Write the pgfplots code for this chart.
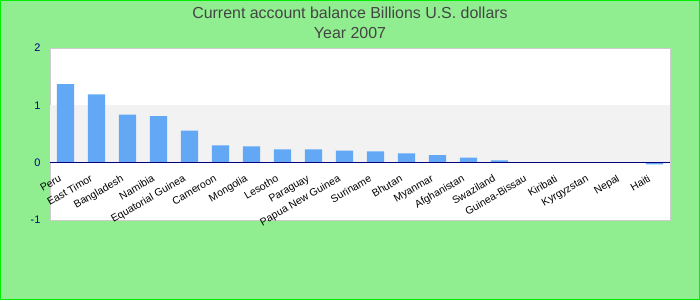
\documentclass[border=0pt]{standalone}
\usepackage{pgfplots}
\pgfplotsset{compat=1.18}
\usepackage{fontspec}
\setmainfont{Liberation Sans}
\definecolor{bggreen}{HTML}{90EE90}
\definecolor{bordergreen}{HTML}{00EE00}
\definecolor{barblue}{RGB}{99,168,245}
\definecolor{band}{HTML}{F2F2F2}
\definecolor{framegray}{HTML}{CCCCCC}
\definecolor{titlegray}{HTML}{444444}
\definecolor{ticknavy}{HTML}{000088}
\begin{document}
\begin{tikzpicture}[x=1bp,y=1bp]
\useasboundingbox (0,0) rectangle (700,300);
\fill[bggreen] (0,0) rectangle (700,300);
\draw[bordergreen,line width=1.2bp] (0.6,0.6) rectangle (699.4,299.4);
\node[font=\fontsize{16}{19}\selectfont,text=titlegray] at (350,287) {Current account balance Billions U.S. dollars};
\node[font=\fontsize{16}{19}\selectfont,text=titlegray] at (350,266.5) {Year 2007};
\begin{axis}[
  at={(50bp,80bp)}, anchor=south west,
  width=620bp, height=172bp, scale only axis,
  xmin=-0.5, xmax=19.5, ymin=-1, ymax=2,
  ytick={-1,0,1,2},
  xtick={0,...,19},
  xticklabels={Peru,East Timor,Bangladesh,Namibia,Equatorial Guinea,Cameroon,Mongolia,Lesotho,Paraguay,Papua New Guinea,Suriname,Bhutan,Myanmar,Afghanistan,Swaziland,Guinea-Bissau,Kiribati,Kyrgyzstan,Nepal,Haiti},
  major tick length=0pt,
  axis background/.style={fill=white},
  axis line style={framegray, line width=1bp},
  yticklabel style={font=\fontsize{11}{13}\selectfont, text=ticknavy, xshift=-6bp},
  /pgf/number format/assume math mode=true,
  xticklabel style={font=\fontsize{10.5}{12}\selectfont, xshift=-7bp, yshift=46bp, rotate=30, anchor=north east, inner sep=0pt},
  ybar, bar width=0.55,
]
\fill[band] (axis cs:-0.5,0) rectangle (axis cs:19.5,1);
\addplot[fill=barblue, draw=none] coordinates {
(0,1.37) (1,1.19) (2,0.84) (3,0.81) (4,0.56) (5,0.30) (6,0.285) (7,0.23) (8,0.23) (9,0.21)
(10,0.195) (11,0.16) (12,0.13) (13,0.09) (14,0.04) (15,0.003) (16,0) (17,0) (18,0) (19,-0.03)};
\draw[color={rgb,255:red,0;green,0;blue,128}, line width=1.2bp] (axis cs:-0.5,0) -- (axis cs:19.5,0);
\end{axis}
\end{tikzpicture}
\end{document}
